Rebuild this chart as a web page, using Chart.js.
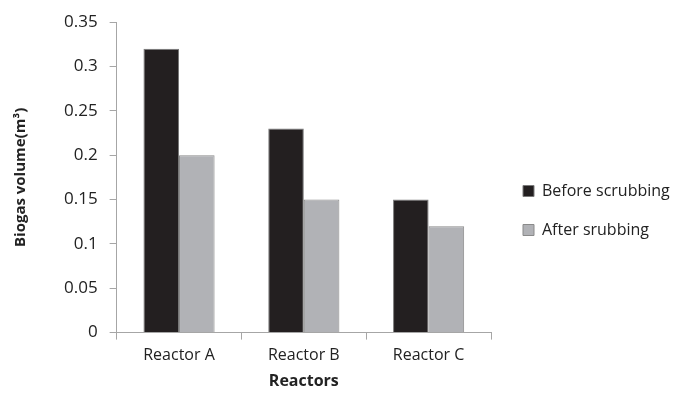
<!DOCTYPE html>
<html>
<head>
<meta charset="utf-8">
<script src="https://cdn.jsdelivr.net/npm/chart.js@4/dist/chart.umd.min.js"></script>
<style>
  html, body { margin: 0; padding: 0; background: #fff; }
  #wrap { width: 674px; height: 395px; }
</style>
</head>
<body>
<div id="wrap"><canvas id="barChart"></canvas></div>
<script>
var reactors = ['Reactor A', 'Reactor B', 'Reactor C'];
var beforeScrubbing = [0.32, 0.23, 0.15];
var afterScrubbing = [0.2, 0.15, 0.12];
var yTicks = ['0', '0.05', '0.1', '0.15', '0.2', '0.25', '0.3', '0.35'];

var font = "'Open Sans', sans-serif";
var ctx = document.getElementById('barChart').getContext('2d');

// nudge the legend a little to the right and down, like the original,
// and let it run to the edge of the canvas so the text is not cut
var legendNudge = {
  id: 'legendNudge',
  afterLayout: function (chart) {
    var lg = chart.legend;
    if (!lg) return;
    lg.left += 9;
    lg.right = chart.width;
    lg.width = lg.right - lg.left;
    lg.top += 11;
    lg.bottom += 11;
  }
};

new Chart(ctx, {
  type: 'bar',
  data: {
    labels: reactors,
    datasets: [
      {
        label: 'Before scrubbing',
        data: beforeScrubbing,
        backgroundColor: '#231f20',
        borderColor: '#7a7a7a',
        borderWidth: 1
      },
      {
        label: 'After srubbing',
        data: afterScrubbing,
        backgroundColor: '#b1b2b6',
        borderColor: '#8a8a8a',
        borderWidth: 1
      }
    ]
  },
  plugins: [legendNudge],
  options: {
    responsive: true,
    maintainAspectRatio: false,
    animation: false,
    layout: { padding: { top: 4, right: 22, bottom: 0, left: 8 } },
    datasets: {
      bar: { categoryPercentage: 0.57, barPercentage: 1 }
    },
    plugins: {
      tooltip: { enabled: false },
      legend: {
        position: 'right',
        labels: {
          color: '#222',
          font: { family: font, size: 16 },
          boxWidth: 11,
          boxHeight: 11,
          padding: 23
        }
      }
    },
    scales: {
      x: {
        border: { color: '#a6a6a6', width: 1 },
        grid: { display: true, drawOnChartArea: false, color: '#a6a6a6', tickLength: 7 },
        ticks: { color: '#222', font: { family: font, size: 16 }, padding: 6 },
        title: {
          display: true,
          text: 'Reactors',
          color: '#222',
          font: { family: font, size: 16, weight: 'bold' },
          padding: { top: 1 }
        }
      },
      y: {
        min: 0,
        max: 0.35,
        border: { color: '#a6a6a6', width: 1 },
        grid: { display: true, drawOnChartArea: false, color: '#a6a6a6', tickLength: 7 },
        ticks: {
          stepSize: 0.05,
          color: '#222',
          font: { family: font, size: 17 },
          padding: 12,
          callback: function (value, index) { return yTicks[index]; }
        },
        title: {
          display: true,
          text: 'Biogas volume(m³)',
          color: '#222',
          font: { family: font, size: 15, weight: 'bold' },
          padding: { bottom: 22 }
        }
      }
    }
  }
});
</script>
</body>
</html>
